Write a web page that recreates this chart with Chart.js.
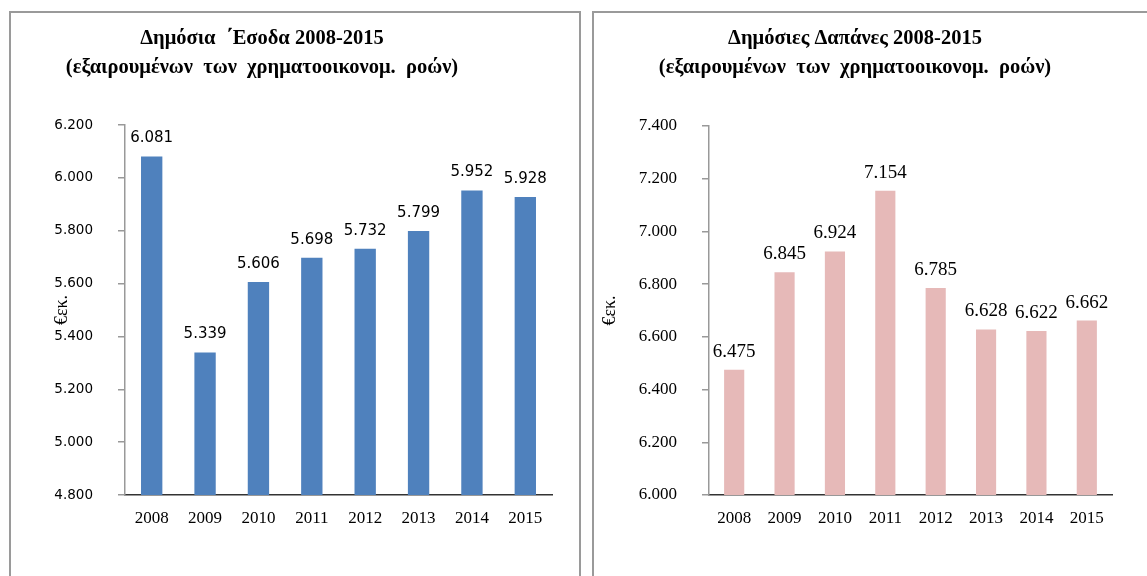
<!DOCTYPE html>
<html>
<head>
<meta charset="utf-8">
<script src="https://cdn.jsdelivr.net/npm/chart.js@4"></script>
<style>
  html, body { margin: 0; padding: 0; background: #fff; overflow: hidden; }
  body { width: 1147px; height: 576px; position: relative; }
  .frame { position: absolute; border: 2px solid #9a9a9a; box-sizing: border-box; }
  .wrap { position: absolute; top: 0; height: 576px; }
</style>
</head>
<body>
<div class="frame" style="left:9px; top:11px; width:572px; height:600px;"></div>
<div class="frame" style="left:592px; top:11px; width:600px; height:600px;"></div>
<div class="wrap" style="left:-28px; width:600px;"><canvas id="revChart"></canvas></div>
<div class="wrap" style="left:598px; width:534px;"><canvas id="expChart"></canvas></div>
<script>
const years = ['2008', '2009', '2010', '2011', '2012', '2013', '2014', '2015'];
const revenue = [6081, 5339, 5606, 5698, 5732, 5799, 5952, 5928];
const spending = [6475, 6845, 6924, 7154, 6785, 6628, 6622, 6662];
const revenueRange = [4800, 6200];
const spendingRange = [6000, 7400];
const tickStep = 200;
const revenueTitle = ['Δημόσια  ΄Εσοδα 2008-2015', '(εξαιρουμένων  των  χρηματοοικονομ.  ροών)'];
const spendingTitle = ['Δημόσιες Δαπάνες 2008-2015', '(εξαιρουμένων  των  χρηματοοικονομ.  ροών)'];
const unitLabel = '€εκ.';

Chart.defaults.color = '#000';

const fmt = (v) => {
  const s = String(Math.round(v));
  return s.length > 3 ? s.slice(0, -3) + '.' + s.slice(-3) : s;
};

// draws the value above every bar
const barValues = {
  id: 'barValues',
  afterDatasetsDraw(chart, args, opts) {
    const ctx = chart.ctx;
    ctx.save();
    ctx.font = opts.font;
    ctx.fillStyle = '#000';
    ctx.textAlign = 'center';
    ctx.textBaseline = 'middle';
    chart.getDatasetMeta(0).data.forEach((bar, i) => {
      ctx.fillText(fmt(chart.data.datasets[0].data[i]), bar.x, bar.y - 18);
    });
    ctx.restore();
  },
};

function makeChart(id, cfg) {
  return new Chart(document.getElementById(id), {
    type: 'bar',
    data: {
      labels: years,
      datasets: [{
        data: cfg.values,
        backgroundColor: cfg.color,
        borderWidth: 0,
        categoryPercentage: 1,
        barPercentage: 0.4,
      }],
    },
    options: {
      responsive: true,
      maintainAspectRatio: false,
      animation: false,
      layout: { padding: { left: 0, right: 20, top: 0, bottom: 0 } },
      scales: {
        x: {
          grid: { display: false, drawTicks: false },
          border: { display: true, color: '#333', width: 1.5 },
          ticks: {
            padding: 13,
            font: { family: 'Liberation Serif', size: 17 },
          },
          afterFit: (s) => { s.height = 81; },
        },
        y: {
          min: cfg.range[0],
          max: cfg.range[1],
          grid: { display: true, drawOnChartArea: false, tickLength: 7, color: '#999', lineWidth: 1.5 },
          border: { display: true, color: '#999', width: 1.5 },
          ticks: {
            stepSize: tickStep,
            padding: 25,
            font: cfg.tickFont,
            callback: (v) => fmt(v),
          },
          title: {
            display: true,
            text: unitLabel,
            font: { family: 'Liberation Serif', size: 18 },
            padding: { top: cfg.unitPad, bottom: 0 },
          },
          afterFit: (s) => { s.width = cfg.axisWidth; },
        },
      },
      plugins: {
        legend: { display: false },
        tooltip: { enabled: false },
        title: {
          display: true,
          text: cfg.title,
          font: { family: 'Liberation Serif', size: 20.5, weight: 'bold', lineHeight: 29 / 20.5 },
          padding: { top: 24, bottom: cfg.titleGap },
        },
        barValues: { font: cfg.valueFont },
      },
    },
    plugins: [barValues],
  });
}

makeChart('revChart', {
  values: revenue,
  range: revenueRange,
  color: '#4f81bd',
  title: revenueTitle,
  titleGap: 43,
  axisWidth: 153,
  unitPad: 79,
  tickFont: { family: 'DejaVu Sans', size: 13.5 },
  valueFont: '15px "DejaVu Sans"',
});

makeChart('expChart', {
  values: spending,
  range: spendingRange,
  color: '#e6b9b8',
  title: spendingTitle,
  titleGap: 44,
  axisWidth: 111,
  unitPad: 1,
  tickFont: { family: 'Liberation Serif', size: 17 },
  valueFont: '19px "Liberation Serif"',
});
</script>
</body>
</html>
